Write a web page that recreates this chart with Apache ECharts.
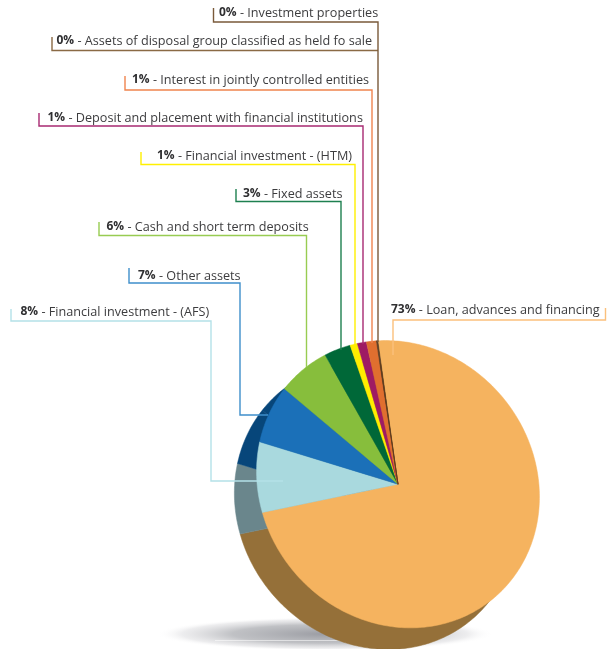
<!DOCTYPE html>
<html><head><meta charset="utf-8">
<style>html,body{margin:0;padding:0;background:#fff}#c{width:610px;height:649px}</style>
<script src="https://cdn.jsdelivr.net/npm/echarts@6/dist/echarts.min.js"></script>
</head><body><div id="c"></div>
<script>
// Data
const categories = ["Loan, advances and financing","Financial investment - (AFS)","Other assets","Cash and short term deposits","Fixed assets","Financial investment - (HTM)","Deposit and placement with financial institutions","Interest in jointly controlled entities","Assets of disposal group classified as held fo sale","Investment properties"];
const printedPercent = [73,8,7,6,3,1,1,1,0,0];
const sliceShares = [74.0,8.0,6.4,5.7,2.9,0.8,1.0,1.1,0.08,0.08];

// Styles and layout
const topColors = ["#F5B35F","#A9D9DE","#1B70B8","#87BE3C","#006838","#FFED00","#9E1B63","#E06F2F","#5A3A1E","#5A3A1E"];
const sideColors = ["#957039","#6A868C","#07467A","#07467A","#07467A","#07467A","#07467A","#957039","#957039","#957039"];
const lineColors = ["#FBC07C","#B4E1E8","#3F8FCB","#98CC52","#1E8050","#FFF000","#A82A72","#F0844E","#8A6A45","#7A5A3A"];
const labelAnchors = [[391,310],[20.5,312],[138,276],[106.5,227],[243,194],[157,156],[47.5,118],[132,80],[56.5,41],[219,13]];
const leaderPaths = [
 [[605.5,308],[605.5,320],[393,320],[393,355]],
 [[11,309],[11,321],[211,321],[211,481],[283,481]],
 [[129,268],[129,283],[240,283],[240,415],[268,415]],
 [[99,222],[99,235.5],[306.5,235.5],[306.5,367]],
 [[236,189],[236,201.5],[341,201.5],[341,350]],
 [[141,152],[141,164.5],[355,164.5],[355,346]],
 [[39,113],[39,126],[363,126],[363,344]],
 [[125,76],[125,90],[372,90],[372,343]],
 [[52,37],[52,50.5],[378,50.5]],
 [[213.5,8],[213.5,22],[378,22],[378,342]]
];
const topCenter = [398,484.2], sideCenter = [375.8,505.8];
const START_DEG = 352, AXIS_DEG = 140, SEMI_MAJOR = 148.8, SEMI_MINOR = 136;
const font = '"Open Sans"';

// The pie is drawn tilted, so its face is an ellipse: slices are swept around the rim.
const total = sliceShares.reduce((a,b)=>a+b,0);
function rimPoint(center,deg){
  const phi=(deg-AXIS_DEG)*Math.PI/180, t=deg*Math.PI/180;
  const r=SEMI_MAJOR*SEMI_MINOR/Math.hypot(SEMI_MINOR*Math.cos(phi),SEMI_MAJOR*Math.sin(phi));
  return [center[0]+r*Math.sin(t),center[1]-r*Math.cos(t)];
}
function sliceRenderer(center,colors){
  return function(params,api){
    const i=params.dataIndex;
    let before=0; for(let k=0;k<i;k++) before+=sliceShares[k];
    const from=START_DEG+before/total*360, span=api.value(0)/total*360;
    const steps=Math.max(2,Math.ceil(span));
    const points=[center];
    for(let s=0;s<=steps;s++) points.push(rimPoint(center,from+span*s/steps));
    return {type:'polygon',shape:{points},style:{fill:colors[i],stroke:colors[i],lineWidth:0.5,lineJoin:'round'}};
  };
}
const sliceData = categories.map((name,i)=>({name,value:[sliceShares[i]]}));
const sliceSeries = (z,center,colors)=>({type:'custom',coordinateSystem:'none',z,silent:true,animation:false,clip:false,
  renderItem:sliceRenderer(center,colors),data:sliceData});

const graphics = [{
  type:'circle',shape:{cx:0,cy:0,r:168},x:325,y:634,scaleY:0.1,z:-2,silent:true,
  style:{fill:{type:'radial',x:0.5,y:0.5,r:0.5,colorStops:[{offset:0,color:'rgba(130,132,140,0.8)'},{offset:0.55,color:'rgba(150,152,158,0.6)'},{offset:0.85,color:'rgba(195,195,200,0.3)'},{offset:1,color:'rgba(255,255,255,0)'}]}}
},{
  type:'line',shape:{x1:215,y1:640.5,x2:345,y2:640.5},z:-1,silent:true,style:{stroke:'rgba(255,255,255,0.55)',lineWidth:1}
}];
categories.forEach((name,i)=>{
  graphics.push({type:'polyline',z:10,silent:true,shape:{points:leaderPaths[i]},style:{stroke:lineColors[i],lineWidth:1.4,fill:null}});
  graphics.push({type:'text',z:11,silent:true,x:labelAnchors[i][0],y:labelAnchors[i][1],
    style:{text:'{b|'+printedPercent[i]+'%} - '+name,fill:'#3c3c3e',font:'12.65px '+font,verticalAlign:'middle',align:'left',
      rich:{b:{fontFamily:font,fontSize:12,fontWeight:'bold',fill:'#2f2f31'}}}});
});
const chart = echarts.init(document.getElementById('c'),null,{renderer:'canvas'});
chart.setOption({
  animation:false,backgroundColor:'#fff',
  series:[ sliceSeries(1,sideCenter,sideColors), sliceSeries(2,topCenter,topColors) ],
  graphic:{elements:graphics}
});
</script></body></html>
